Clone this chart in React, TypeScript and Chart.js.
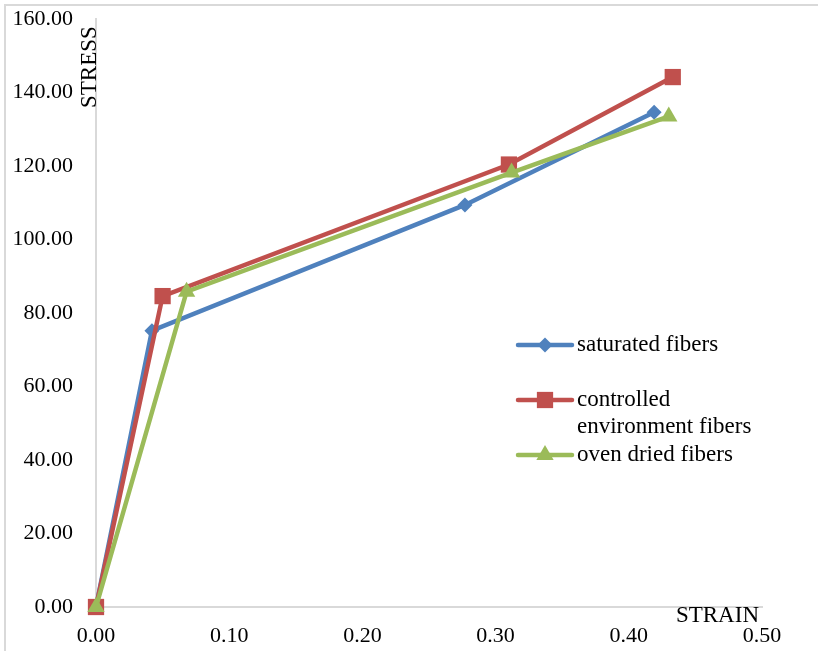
import React, { useEffect, useRef } from "react";
import { Chart, registerables } from "chart.js";

Chart.register(...registerables);

// Strain / stress readings for each fiber conditioning
const seriesNames = ["saturated fibers", "controlled environment fibers", "oven dried fibers"];
const legendLines = [["saturated fibers"], ["controlled", "environment fibers"], ["oven dried fibers"]];

const saturatedStrain = [0, 0.042, 0.277, 0.419];
const saturatedStress = [0, 75.2, 109.4, 134.6];

const controlledStrain = [0, 0.05, 0.31, 0.433];
const controlledStress = [0, 84.6, 120.4, 144.2];

const ovenStrain = [0, 0.068, 0.312, 0.43];
const ovenStress = [0, 85.8, 118.2, 133.5];

const colors = ["#4F81BD", "#C0504D", "#9BBB59"];
const markers = ["rectRot", "rect", "triangle"];
const markerSizes = [7.5, 11.5, 10];

const xTicks = [0, 0.1, 0.2, 0.3, 0.4, 0.5];
const yTicks = [0, 20, 40, 60, 80, 100, 120, 140, 160];

const FONT = "'Liberation Serif', 'Times New Roman', serif";

function toPoints(xs: number[], ys: number[]) {
  return xs.map((x, i) => ({ x, y: ys[i] }));
}

function drawMarker(ctx: CanvasRenderingContext2D, style: string, x: number, y: number, r: number) {
  ctx.beginPath();
  if (style === "rect") {
    const s = Math.SQRT1_2 * r;
    ctx.rect(x - s, y - s, 2 * s, 2 * s);
  } else if (style === "rectRot") {
    ctx.moveTo(x, y - r);
    ctx.lineTo(x + r, y);
    ctx.lineTo(x, y + r);
    ctx.lineTo(x - r, y);
    ctx.closePath();
  } else {
    const a = (2 * Math.PI) / 3;
    ctx.moveTo(x, y - r);
    ctx.lineTo(x + Math.sin(a) * r, y - Math.cos(a) * r);
    ctx.lineTo(x + Math.sin(2 * a) * r, y - Math.cos(2 * a) * r);
    ctx.closePath();
  }
  ctx.fill();
}

const annotations = {
  id: "annotations",
  afterDraw(chart: any) {
    const { ctx, chartArea } = chart;
    ctx.save();
    ctx.fillStyle = "#000";
    ctx.font = `23px ${FONT}`;

    // axis titles
    ctx.save();
    ctx.translate(chartArea.left, chartArea.top + 89);
    ctx.rotate(-Math.PI / 2);
    ctx.textAlign = "left";
    ctx.textBaseline = "alphabetic";
    ctx.fillText("STRESS", 0, 0);
    ctx.restore();

    ctx.textAlign = "right";
    ctx.textBaseline = "alphabetic";
    ctx.fillText("STRAIN", chartArea.right - 3, chartArea.bottom + 15);

    // legend
    const lx = chartArea.left + 422;
    const rows = [chartArea.top + 326, chartArea.top + 381, chartArea.top + 436];
    ctx.textAlign = "left";
    ctx.textBaseline = "middle";
    rows.forEach((ry, i) => {
      ctx.strokeStyle = colors[i];
      ctx.fillStyle = colors[i];
      ctx.lineWidth = 4.5;
      ctx.lineCap = "round";
      ctx.beginPath();
      ctx.moveTo(lx, ry);
      ctx.lineTo(lx + 54, ry);
      ctx.stroke();
      drawMarker(ctx, markers[i], lx + 27, ry, markerSizes[i]);
      ctx.fillStyle = "#000";
      legendLines[i].forEach((t, j) => ctx.fillText(t, lx + 59, ry + j * 27));
    });
    ctx.restore();
  },
};

export default function App() {
  const canvasRef = useRef<HTMLCanvasElement>(null);

  useEffect(() => {
    if (!canvasRef.current) return;
    const chart = new Chart(canvasRef.current, {
      type: "line",
      data: {
        datasets: [
          { label: seriesNames[0], data: toPoints(saturatedStrain, saturatedStress) },
          { label: seriesNames[1], data: toPoints(controlledStrain, controlledStress) },
          { label: seriesNames[2], data: toPoints(ovenStrain, ovenStress) },
        ].map((d, i) => ({
          ...d,
          order: 3 - i,
          clip: false as any,
          borderColor: colors[i],
          backgroundColor: colors[i],
          borderWidth: 4.5,
          tension: 0,
          pointStyle: markers[i] as any,
          pointRadius: markerSizes[i],
          pointBorderWidth: 0,
          pointBackgroundColor: colors[i],
          fill: false,
        })),
      },
      options: {
        responsive: false,
        animation: false,
        layout: { padding: { left: 0, top: 19, right: 56, bottom: 0 } },
        plugins: { legend: { display: false }, tooltip: { enabled: false } },
        scales: {
          x: {
            type: "linear",
            min: 0,
            max: 0.5,
            afterBuildTicks: (s: any) => {
              s.ticks = xTicks.map((v) => ({ value: v }));
            },
            afterFit: (s: any) => {
              s.height = 44;
              s.paddingLeft = 0;
              s.paddingRight = 0;
            },
            grid: { display: false, drawTicks: false },
            border: { display: true, color: "#d9d9d9", width: 2 },
            ticks: {
              padding: 16,
              color: "#000",
              font: { family: FONT, size: 22 },
              callback: (v: any) => Number(v).toFixed(2),
            },
          },
          y: {
            type: "linear",
            min: 0,
            max: 160,
            afterBuildTicks: (s: any) => {
              s.ticks = yTicks.map((v) => ({ value: v }));
            },
            afterFit: (s: any) => {
              s.width = 96;
              s.paddingTop = 0;
              s.paddingBottom = 0;
            },
            grid: { display: false, drawTicks: false },
            border: { display: true, color: "#d9d9d9", width: 2 },
            ticks: {
              padding: 23,
              color: "#000",
              font: { family: FONT, size: 22 },
              callback: (v: any) => Number(v).toFixed(2),
            },
          },
        },
      },
      plugins: [annotations],
    });
    return () => chart.destroy();
  }, []);

  return (
    <div style={{ position: "fixed", left: 0, top: 0, width: 818, height: 651, background: "#fff", overflow: "hidden" }}>
      <div
        style={{
          position: "absolute",
          left: 4,
          top: 4,
          right: -10,
          bottom: -10,
          borderLeft: "2px solid #d9d9d9",
          borderTop: "2px solid #d9d9d9",
        }}
      />
      <canvas ref={canvasRef} width={818} height={651} style={{ position: "absolute", left: 0, top: 0, display: "block" }} />
    </div>
  );
}
